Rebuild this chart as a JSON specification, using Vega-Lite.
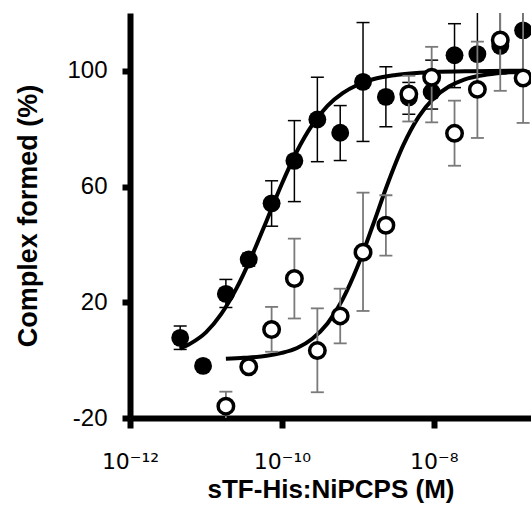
{
  "$schema": "https://vega.github.io/schema/vega-lite/v6.json",
  "autosize": "none",
  "width": 401,
  "height": 405,
  "padding": {"left": 130, "top": 13, "right": 0, "bottom": 90},
  "background": "white",
  "config": {
    "view": {"stroke": null},
    "axis": {"grid": false},
    "axisX": {"domainWidth": 6, "domainColor": "black", "tickColor": "black", "tickWidth": 6, "tickSize": 10, "labelFont": "DejaVu Sans", "labelFontSize": 22, "labelColor": "black", "labelPadding": 23, "labelDx": 6, "labelFlush": false, "titleFont": "Liberation Sans", "titleFontWeight": "bold", "titleFontSize": 26, "titleColor": "black", "titlePadding": 4},
    "axisY": {"domainWidth": 6, "domainColor": "black", "tickColor": "black", "tickWidth": 6, "tickSize": 8, "labelFont": "Liberation Sans", "labelFontSize": 24, "labelColor": "black", "labelPadding": 15, "titleFont": "Liberation Sans", "titleFontWeight": "bold", "titleFontSize": 27, "titleColor": "black", "titlePadding": 24}
  },
  "datasets": {
    "filled": [
      {"conc": 4.58e-12, "y": 7.7, "lo": 3.7, "hi": 11.8},
      {"conc": 9.16e-12, "y": -2.0, "lo": -3.0, "hi": -1.0},
      {"conc": 1.83e-11, "y": 22.9, "lo": 18.2, "hi": 27.9},
      {"conc": 3.66e-11, "y": 34.8, "lo": 32.5, "hi": 37.0},
      {"conc": 7.32e-11, "y": 54.2, "lo": 46.3, "hi": 62.0},
      {"conc": 1.46e-10, "y": 68.9, "lo": 54.8, "hi": 82.8},
      {"conc": 2.93e-10, "y": 83.2, "lo": 68.6, "hi": 97.8},
      {"conc": 5.86e-10, "y": 78.6, "lo": 69.0, "hi": 88.0},
      {"conc": 1.17e-9, "y": 96.2, "lo": 75.6, "hi": 116.7},
      {"conc": 2.34e-9, "y": 91.0, "lo": 80.7, "hi": 101.4},
      {"conc": 4.69e-9, "y": 90.8, "lo": 85.0, "hi": 96.0},
      {"conc": 9.375e-9, "y": 92.7, "lo": 86.8, "hi": 103.7},
      {"conc": 1.875e-8, "y": 105.4, "lo": 94.2, "hi": 116.3},
      {"conc": 3.75e-8, "y": 105.8, "lo": 95.5, "hi": 125.0},
      {"conc": 7.5e-8, "y": 108.6, "lo": 99.0, "hi": 125.0},
      {"conc": 1.5e-7, "y": 114.0, "lo": 100.0, "hi": 128.0}
    ],
    "open": [
      {"conc": 1.83e-11, "y": -15.9, "lo": -20.9, "hi": -10.9},
      {"conc": 3.66e-11, "y": -2.3, "lo": -4.0, "hi": -0.6},
      {"conc": 7.32e-11, "y": 10.6, "lo": 2.9, "hi": 18.4},
      {"conc": 1.46e-10, "y": 28.2, "lo": 14.4, "hi": 42.0},
      {"conc": 2.93e-10, "y": 3.3, "lo": -11.1, "hi": 17.9},
      {"conc": 5.86e-10, "y": 15.3, "lo": 5.8, "hi": 24.7},
      {"conc": 1.17e-9, "y": 37.3, "lo": 17.0, "hi": 57.9},
      {"conc": 2.34e-9, "y": 46.6, "lo": 36.1, "hi": 57.0},
      {"conc": 4.69e-9, "y": 92.0, "lo": 82.5, "hi": 98.3},
      {"conc": 9.375e-9, "y": 97.8, "lo": 82.2, "hi": 108.3},
      {"conc": 1.875e-8, "y": 78.4, "lo": 67.2, "hi": 89.7},
      {"conc": 3.75e-8, "y": 93.6, "lo": 76.8, "hi": 110.1},
      {"conc": 7.5e-8, "y": 110.7, "lo": 93.1, "hi": 128.0},
      {"conc": 1.5e-7, "y": 97.5, "lo": 82.0, "hi": 125.0}
    ],
    "curves": [
      {"series": "filled", "conc": 4.57e-12, "y": 4.0},
      {"series": "filled", "conc": 6.31e-12, "y": 5.8},
      {"series": "filled", "conc": 1e-11, "y": 9.6},
      {"series": "filled", "conc": 1.585e-11, "y": 15.9},
      {"series": "filled", "conc": 2.512e-11, "y": 24.7},
      {"series": "filled", "conc": 3.981e-11, "y": 35.8},
      {"series": "filled", "conc": 6.31e-11, "y": 48.3},
      {"series": "filled", "conc": 1e-10, "y": 61.0},
      {"series": "filled", "conc": 1.585e-10, "y": 72.3},
      {"series": "filled", "conc": 2.512e-10, "y": 81.3},
      {"series": "filled", "conc": 3.981e-10, "y": 87.9},
      {"series": "filled", "conc": 6.31e-10, "y": 92.3},
      {"series": "filled", "conc": 1e-9, "y": 95.2},
      {"series": "filled", "conc": 1.585e-9, "y": 97.1},
      {"series": "filled", "conc": 3.162e-9, "y": 98.6},
      {"series": "filled", "conc": 1e-8, "y": 99.6},
      {"series": "filled", "conc": 3.162e-8, "y": 99.9},
      {"series": "filled", "conc": 1e-7, "y": 100.0},
      {"series": "filled", "conc": 1.5e-7, "y": 100.0},
      {"series": "open", "conc": 1.83e-11, "y": 0.5},
      {"series": "open", "conc": 3.162e-11, "y": 0.8},
      {"series": "open", "conc": 6.31e-11, "y": 1.5},
      {"series": "open", "conc": 1e-10, "y": 2.5},
      {"series": "open", "conc": 1.585e-10, "y": 4.2},
      {"series": "open", "conc": 2.512e-10, "y": 7.4},
      {"series": "open", "conc": 3.981e-10, "y": 12.7},
      {"series": "open", "conc": 6.31e-10, "y": 21.0},
      {"series": "open", "conc": 1e-9, "y": 32.6},
      {"series": "open", "conc": 1.585e-9, "y": 46.8},
      {"series": "open", "conc": 2.512e-9, "y": 61.5},
      {"series": "open", "conc": 3.981e-9, "y": 74.4},
      {"series": "open", "conc": 6.31e-9, "y": 84.1},
      {"series": "open", "conc": 1e-8, "y": 90.6},
      {"series": "open", "conc": 1.585e-8, "y": 94.6},
      {"series": "open", "conc": 2.512e-8, "y": 97.0},
      {"series": "open", "conc": 5.012e-8, "y": 98.7},
      {"series": "open", "conc": 1e-7, "y": 99.5},
      {"series": "open", "conc": 1.5e-7, "y": 99.7}
    ]
  },
  "encoding": {
    "x": {"field": "conc", "type": "quantitative", "scale": {"type": "log", "domain": [1e-12, 1.905e-7]}, "axis": {"values": [1e-12, 1e-10, 1e-8], "labelExpr": "datum.value < 5e-12 ? '10⁻¹²' : datum.value < 5e-10 ? '10⁻¹⁰' : '10⁻⁸'", "title": "sTF-His:NiPCPS (M)"}}
  },
  "layer": [
    {
      "data": {"name": "curves"},
      "mark": {"type": "line", "color": "black", "strokeWidth": 4, "interpolate": "monotone", "clip": true},
      "encoding": {
        "y": {"field": "y", "type": "quantitative", "scale": {"domain": [-20, 120]}, "axis": {"values": [-20, 20, 60, 100], "labelExpr": "toString(datum.value)", "title": "Complex formed (%)"}},
        "detail": {"field": "series"}
      }
    },
    {
      "data": {"name": "filled"},
      "mark": {"type": "rule", "color": "black", "strokeWidth": 1.5, "clip": true},
      "encoding": {
        "y": {"field": "lo", "type": "quantitative", "scale": {"domain": [-20, 120]}, "title": "Complex formed (%)"},
        "y2": {"field": "hi"}
      }
    },
    {
      "data": {"name": "filled"},
      "mark": {"type": "tick", "orient": "horizontal", "size": 13, "thickness": 1.5, "color": "black", "opacity": 1, "clip": true},
      "encoding": {"y": {"field": "lo", "type": "quantitative", "scale": {"domain": [-20, 120]}, "title": "Complex formed (%)"}}
    },
    {
      "data": {"name": "filled"},
      "mark": {"type": "tick", "orient": "horizontal", "size": 13, "thickness": 1.5, "color": "black", "opacity": 1, "clip": true},
      "encoding": {"y": {"field": "hi", "type": "quantitative", "scale": {"domain": [-20, 120]}, "title": "Complex formed (%)"}}
    },
    {
      "data": {"name": "filled"},
      "mark": {"type": "point", "shape": "circle", "filled": true, "color": "black", "size": 320, "opacity": 1},
      "encoding": {"y": {"field": "y", "type": "quantitative", "scale": {"domain": [-20, 120]}, "title": "Complex formed (%)"}}
    },
    {
      "data": {"name": "open"},
      "mark": {"type": "rule", "color": "#7a7a7a", "strokeWidth": 1.8, "clip": true},
      "encoding": {
        "y": {"field": "lo", "type": "quantitative", "scale": {"domain": [-20, 120]}, "title": "Complex formed (%)"},
        "y2": {"field": "hi"}
      }
    },
    {
      "data": {"name": "open"},
      "mark": {"type": "tick", "orient": "horizontal", "size": 13, "thickness": 1.8, "color": "#7a7a7a", "opacity": 1, "clip": true},
      "encoding": {"y": {"field": "lo", "type": "quantitative", "scale": {"domain": [-20, 120]}, "title": "Complex formed (%)"}}
    },
    {
      "data": {"name": "open"},
      "mark": {"type": "tick", "orient": "horizontal", "size": 13, "thickness": 1.8, "color": "#7a7a7a", "opacity": 1, "clip": true},
      "encoding": {"y": {"field": "hi", "type": "quantitative", "scale": {"domain": [-20, 120]}, "title": "Complex formed (%)"}}
    },
    {
      "data": {"name": "open"},
      "mark": {"type": "point", "shape": "circle", "filled": true, "fill": "white", "stroke": "black", "strokeWidth": 3.5, "size": 240, "opacity": 1},
      "encoding": {"y": {"field": "y", "type": "quantitative", "scale": {"domain": [-20, 120]}, "title": "Complex formed (%)"}}
    }
  ]
}
